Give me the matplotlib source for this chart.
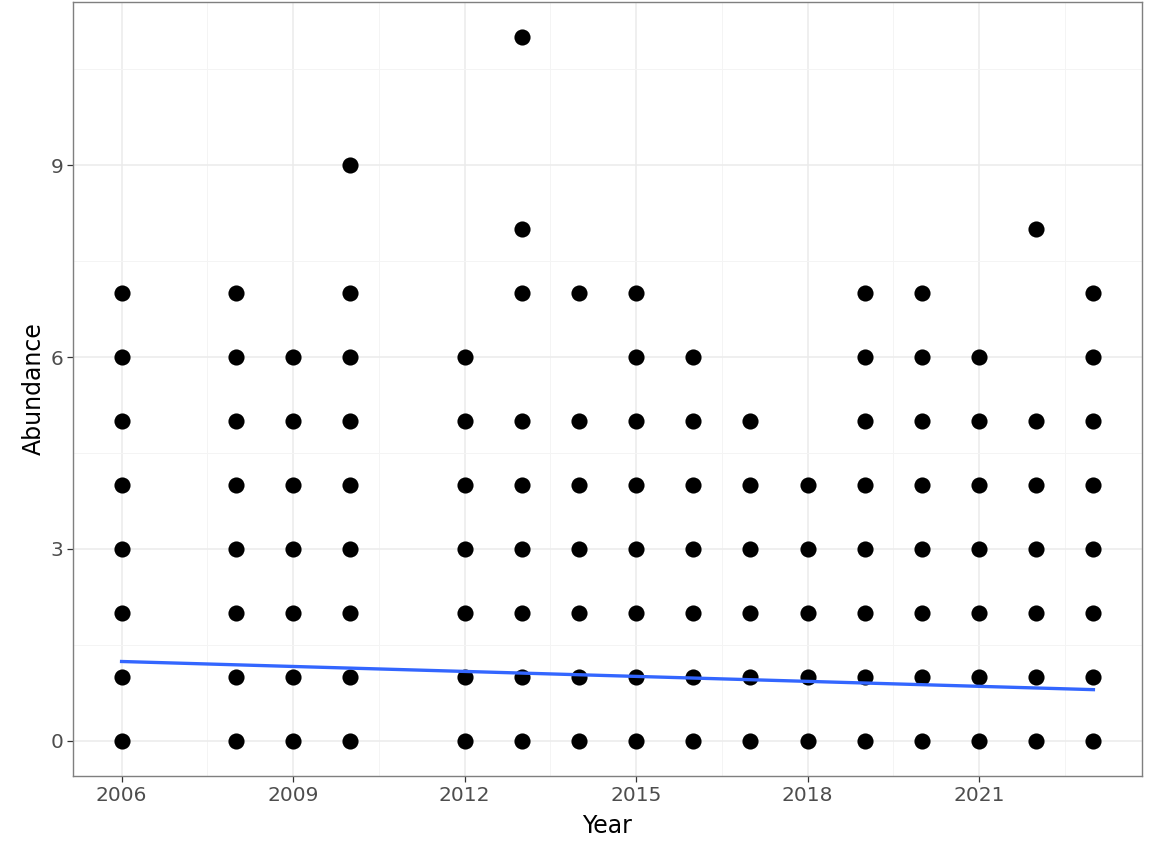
import numpy as np
import matplotlib; matplotlib.use("Agg"); import matplotlib.pyplot as plt

# abundance values observed in each year
years = [2006, 2008, 2009, 2010, 2012, 2013, 2014, 2015,
         2016, 2017, 2018, 2019, 2020, 2021, 2022, 2023]
abund = [
    [0, 1, 2, 3, 4, 5, 6, 7],
    [0, 1, 2, 3, 4, 5, 6, 7],
    [0, 1, 2, 3, 4, 5, 6],
    [0, 1, 2, 3, 4, 5, 6, 7, 9],
    [0, 1, 2, 3, 4, 5, 6],
    [0, 1, 2, 3, 4, 5, 7, 8, 11],
    [0, 1, 2, 3, 4, 5, 7],
    [0, 1, 2, 3, 4, 5, 6, 7],
    [0, 1, 2, 3, 4, 5, 6],
    [0, 1, 2, 3, 4, 5],
    [0, 1, 2, 3, 4],
    [0, 1, 2, 3, 4, 5, 6, 7],
    [0, 1, 2, 3, 4, 5, 6, 7],
    [0, 1, 2, 3, 4, 5, 6],
    [0, 1, 2, 3, 4, 5, 8],
    [0, 1, 2, 3, 4, 5, 6, 7],
]
# fitted trend
trend_years = [2006, 2023]
trend_vals = [1.24, 0.80]

x_ticks = [2006, 2009, 2012, 2015, 2018, 2021]
x_minor = [2007.5, 2010.5, 2013.5, 2016.5, 2019.5, 2022.5]
y_ticks = [0, 3, 6, 9]
y_minor = [1.5, 4.5, 7.5, 10.5]

xs = np.concatenate([[y] * len(a) for y, a in zip(years, abund)])
ys = np.concatenate(abund)

fig = plt.figure(figsize=(11.52, 8.44), dpi=100)
ax = fig.add_axes([73/1152, 1 - 776/844, (1142 - 73)/1152, (776 - 2)/844])

ax.scatter(xs, ys, s=135, color="black", lw=0, zorder=3)
ax.plot(trend_years, trend_vals, color="#3366FF", lw=2.4, zorder=4)

ax.set_xlim(2006 - 0.85, 2023 + 0.85)
ax.set_ylim(-0.55, 11.55)
ax.set_xticks(x_ticks); ax.set_xticks(x_minor, minor=True)
ax.set_yticks(y_ticks); ax.set_yticks(y_minor, minor=True)
ax.grid(True, which="major", color="#EBEBEB", lw=1.1, zorder=0)
ax.grid(True, which="minor", color="#F4F4F4", lw=0.7, zorder=0)
ax.set_axisbelow(True)
ax.tick_params(which="minor", length=0)
ax.tick_params(which="major", length=4, width=0.9, color="#333333",
               labelsize=14.5, labelcolor="#4D4D4D", pad=3)
for sp in ax.spines.values():
    sp.set_color("#7F7F7F"); sp.set_linewidth(1.0)

ax.set_xlabel("Year", fontsize=17, labelpad=7)
ax.set_ylabel("Abundance", fontsize=17, labelpad=3)

fig.savefig("out.png", dpi=100)
